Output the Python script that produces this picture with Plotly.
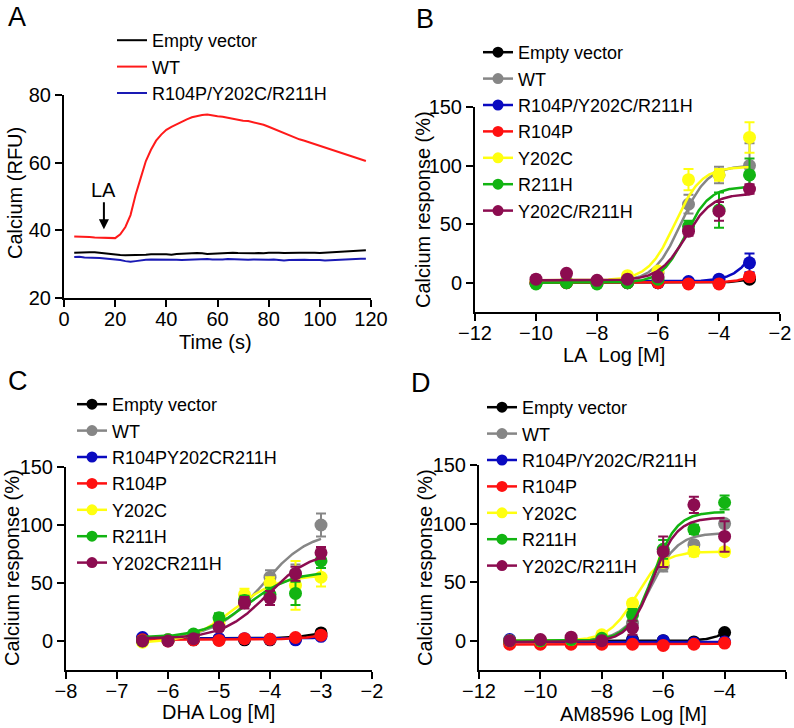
import numpy as np
import plotly.graph_objects as go

W, H = 794, 728
FONT = "Liberation Sans, Arial, Helvetica, sans-serif"

# ---------------- Panel A data (time course) ----------------
A_time = list(range(4, 119, 2))
A_names = ["Empty vector", "WT", "R104P/Y202C/R211H"]
A_colors = ["#000000", "#ff1a1a", "#1a1ab4"]
A_empty = [33.4, 33.5, 33.6, 33.5, 33.5, 33.3, 33.1, 33.0, 32.8, 32.7,
           32.6, 32.6, 32.7, 32.6, 32.8, 32.9, 32.8, 32.9, 32.9, 32.8,
           33.0, 33.1, 33.2, 33.1, 33.3, 33.2, 33.0, 33.1, 33.2, 33.3,
           33.3, 33.4, 33.3, 33.2, 33.3, 33.2, 33.3, 33.2, 33.4, 33.5,
           33.4, 33.3, 33.4, 33.5, 33.4, 33.4, 33.5, 33.4, 33.3, 33.4,
           33.5, 33.6, 33.6, 33.8, 33.9, 34.0, 34.1, 34.1]
A_wt = [38.2, 38.2, 38.1, 38.0, 37.9, 37.8, 37.8, 37.7, 37.7, 38.8,
        41.0, 44.5, 50.5, 55.5, 60.5, 63.8, 66.5, 68.3, 69.7, 70.6,
        71.4, 72.2, 72.8, 73.4, 73.8, 74.1, 74.2, 73.9, 73.7, 73.6,
        73.3, 73.0, 72.6, 72.4, 72.3, 72.0, 71.6, 71.2, 70.6, 70.0,
        69.4, 68.8, 68.0, 67.5, 66.9, 66.5, 66.0, 65.6, 65.2, 64.7,
        64.1, 63.5, 63.0, 62.5, 62.0, 61.5, 61.0, 60.5]
A_triple = [32.1, 32.2, 32.0, 32.0, 31.9, 31.8, 31.7, 31.6, 31.4, 31.2,
            30.9, 30.7, 30.9, 31.2, 31.3, 31.4, 31.4, 31.3, 31.4, 31.5,
            31.3, 31.2, 31.3, 31.4, 31.3, 31.4, 31.5, 31.4, 31.3, 31.4,
            31.5, 31.4, 31.5, 31.4, 31.3, 31.4, 31.3, 31.2, 31.3, 31.4,
            31.2, 31.1, 31.2, 31.3, 31.2, 31.3, 31.2, 31.3, 31.2, 31.1,
            31.2, 31.3, 31.3, 31.4, 31.4, 31.5, 31.6, 31.6]

# ---------------- Dose-response series ----------------
S_colors = ["#000000", "#868686", "#0a0ac0", "#ff1010", "#ffff10", "#12b412", "#8c0c50"]

B_names = ["Empty vector", "WT", "R104P/Y202C/R211H", "R104P", "Y202C", "R211H", "Y202C/R211H"]
B_x = [-10, -9, -8, -7, -6, -5, -4, -3]
B_y = [[0, 0, 0, 0, 0, 0, 0, 3],
       [1, 1, 1, 3, 8, 67, 92, 100],
       [0, 1, 1, 0, 0, 1, 3, 17],
       [0, 0, 0, 0, 0, -1, -1, 5],
       [1, 1, 1, 6, 10, 88, 92, 124],
       [-1, 0, -1, 0, 3, 48, 62, 92],
       [3, 8, 2, 3, 5, 44, 61, 80]]
B_err = [[1, 1, 1, 1, 1, 1, 1, 1],
         [1, 1, 1, 1, 2, 8, 7, 19],
         [1, 1, 1, 1, 1, 1, 1, 8],
         [1, 1, 1, 1, 1, 1, 1, 3],
         [1, 1, 1, 1, 2, 9, 5, 13],
         [1, 1, 1, 1, 2, 5, 15, 14],
         [3, 1, 1, 1, 1, 4, 8, 4]]
# fitted curve parameters: bottom, top, logEC50, hill
B_fit = [(0, 100, -1.5, 1.0), (1, 100, -5.25, 1.0), (1, 100, -2.4, 1.0), (0, 100, -1.7, 1.0),
         (2, 99, -5.45, 1.0), (0, 82, -5.1, 1.1), (2, 76, -5.1, 1.0)]

C_names = ["Empty vector", "WT", "R104PY202CR211H", "R104P", "Y202C", "R211H", "Y202CR211H"]
C_x = [-6.5, -6, -5.5, -5, -4.5, -4, -3.5, -3]
C_y = [[2, 0.5, 1, 1, 1, 1, 2, 7],
       [1, 1, 3, 12, 33, 55, 58, 100],
       [3, 1, 1.5, 2, 2, 1.5, 1, 4],
       [1, 0, 1, 0.5, 2, 1.5, 3, 5],
       [-1, 1, 3, 15, 40, 50, 48, 55],
       [0, 1, 6, 20, 35, 40, 41, 69],
       [0, 0, 2, 12, 33, 37, 58, 76]]
C_err = [[1, 1, 1, 1, 1, 1, 1, 1],
         [1, 1, 1, 2, 3, 6, 8, 10],
         [1, 1, 1, 1, 1, 1, 1, 1],
         [1, 1, 1, 1, 1, 1, 1, 1],
         [1, 1, 1, 2, 5, 5, 21, 8],
         [1, 1, 1, 4, 4, 6, 10, 6],
         [1, 1, 1, 2, 5, 6, 6, 5]]
C_fit = [(2, 100, -1.7, 1.0), (2, 95, -4.15, 0.95), (2, 100, -1.0, 1.0), (1, 100, -1.6, 1.0),
         (-2, 57, -4.7, 1.0), (3, 60, -4.45, 1.0), (2, 78, -4.05, 1.0)]

D_names = ["Empty vector", "WT", "R104P/Y202C/R211H", "R104P", "Y202C", "R211H", "Y202C/R211H"]
D_x = [-11, -10, -9, -8, -7, -6, -5, -4]
D_y = [[-1, -1, -1, -1, 1, 0, -1, 7],
       [0, 0, 1, 3, 15, 64, 82, 100],
       [1, -1, 0, -1, 0, 0, -2, -1],
       [-3, -3, -3, -3, -3, -4, -3, -2],
       [0, 0, 1, 5, 32, 67, 76, 76],
       [0, 0, 1, 2, 22, 78, 95, 118],
       [0, 1, 3, 0, 11, 76, 116, 89]]
D_err = [[1, 1, 1, 1, 1, 1, 1, 1],
         [1, 1, 1, 1, 3, 5, 3, 3],
         [1, 1, 1, 1, 1, 1, 1, 1],
         [1, 1, 1, 1, 1, 1, 1, 1],
         [1, 1, 1, 1, 3, 4, 4, 3],
         [1, 1, 1, 1, 5, 8, 4, 6],
         [1, 1, 1, 1, 6, 13, 7, 13]]
D_fit = [(-0.5, 100, -2.9, 1.0), (0, 92, -6.4, 1.0), (-1, -1, -6.0, 1.0), (-3.2, 0, -3.5, 1.0),
         (0, 76, -6.9, 1.0), (0, 110, -6.35, 1.1), (-1, 105, -6.35, 1.1)]


def logistic(x, p):
    b, t, ec, h = p
    return b + (t - b) / (1 + 10 ** ((ec - x) * h))


def px(v):
    return v / W


def py(v):
    return 1 - v / H


fig = go.Figure()

# Panel A
for name, col, ys in zip(A_names, A_colors, [A_empty, A_wt, A_triple]):
    fig.add_trace(go.Scatter(x=A_time, y=ys, mode="lines", name=name,
                             line=dict(color=col, width=2), xaxis="x", yaxis="y",
                             legend="legend"))

panels = [("x2", "y2", "legend2", B_names, B_x, B_y, B_err, B_fit),
          ("x3", "y3", "legend3", C_names, C_x, C_y, C_err, C_fit),
          ("x4", "y4", "legend4", D_names, D_x, D_y, D_err, D_fit)]
for xa, ya, lg, names, xs, yss, errs, fits in panels:
    xc = np.linspace(min(xs), max(xs), 300)
    for name, col, ys, er, fp in zip(names, S_colors, yss, errs, fits):
        fig.add_trace(go.Scatter(x=xc, y=logistic(xc, fp), mode="lines",
                                 line=dict(color=col, width=2.5), showlegend=False,
                                 xaxis=xa, yaxis=ya, hoverinfo="skip"))
        fig.add_trace(go.Scatter(x=xs, y=ys, mode="markers",
                                 marker=dict(color=col, size=13),
                                 error_y=dict(type="data", array=er, color=col,
                                              thickness=2, width=5),
                                 showlegend=False, xaxis=xa, yaxis=ya))
        fig.add_trace(go.Scatter(x=[None], y=[None], mode="lines+markers", name=name,
                                 line=dict(color=col, width=2.5),
                                 marker=dict(color=col, size=11),
                                 xaxis=xa, yaxis=ya, legend=lg))

axis_common = dict(showline=True, linecolor="black", linewidth=2, ticks="outside",
                   ticklen=7, tickwidth=2, tickcolor="black", showgrid=False,
                   zeroline=False, tickfont=dict(size=20, color="black", family=FONT),
                   fixedrange=True)
xax_extra = dict(ticklabelstandoff=-5)

fig.update_layout(
    width=W, height=H, margin=dict(l=0, r=0, t=0, b=0, autoexpand=False),
    paper_bgcolor="white", plot_bgcolor="white",
    font=dict(family=FONT, size=20, color="black"),
    xaxis=dict(domain=[px(64), px(371)], range=[0, 120], tickvals=[0, 20, 40, 60, 80, 100, 120],
               anchor="y", **axis_common, **xax_extra),
    yaxis=dict(domain=[py(298), py(95)], range=[20, 80], tickvals=[20, 40, 60, 80],
               anchor="x", **axis_common),
    xaxis2=dict(domain=[px(475), px(780)], range=[-12, -2], tickvals=[-12, -10, -8, -6, -4, -2],
                anchor="y2", **axis_common, **xax_extra),
    yaxis2=dict(domain=[py(312), py(107)], range=[-25, 150], tickvals=[0, 50, 100, 150],
                anchor="x2", **axis_common),
    xaxis3=dict(domain=[px(66), px(372)], range=[-8, -2], tickvals=[-8, -7, -6, -5, -4, -3, -2],
                anchor="y3", **axis_common, **xax_extra),
    yaxis3=dict(domain=[py(670), py(467)], range=[-25, 150], tickvals=[0, 50, 100, 150],
                anchor="x3", **axis_common),
    xaxis4=dict(domain=[px(479), px(786)], range=[-12, -2], tickvals=[-12, -10, -8, -6, -4, -2],
                anchor="y4", **axis_common, **xax_extra),
    yaxis4=dict(domain=[py(670), py(465)], range=[-25, 150], tickvals=[0, 50, 100, 150],
                anchor="x4", **axis_common),
    showlegend=True,
)

leg_common = dict(xanchor="left", yanchor="top", bgcolor="rgba(0,0,0,0)",
                  font=dict(size=18, family=FONT, color="black"), tracegroupgap=0,
                  itemwidth=30, borderwidth=0)
fig.update_layout(
    legend=dict(x=px(112), y=py(22), **leg_common),
    legend2=dict(x=px(478), y=py(34), **leg_common),
    legend3=dict(x=px(72), y=py(386), **leg_common),
    legend4=dict(x=px(482), y=py(389), **leg_common),
)

ann = []
for t, x, y in [("A", 17, 17), ("B", 425, 19), ("C", 18, 381), ("D", 421, 383)]:
    ann.append(dict(text=t, x=px(x), y=py(y), xref="paper", yref="paper",
                    showarrow=False, xanchor="center", yanchor="middle",
                    font=dict(size=27, family=FONT, color="black")))

titles = [
    ("Time (s)", 215, 342, 0),
    ("Calcium (RFU)", 15, 193, -90),
    ("LA\u00a0 Log [M]", 614, 355, 0),
    ("Calcium response (%)", 423, 210, -90),
    ("DHA Log [M]", 219, 712, 0),
    ("Calcium response (%)", 12, 568, -90),
    ("AM8596 Log [M]", 633, 714, 0),
    ("Calcium response (%)", 425, 568, -90),
]
for t, x, y, rot in titles:
    ann.append(dict(text=t, x=px(x), y=py(y), xref="paper", yref="paper", showarrow=False,
                    xanchor="center", yanchor="middle", textangle=rot,
                    font=dict(size=20, family=FONT, color="black")))

# LA arrow in panel A
ann.append(dict(text="LA", x=15.6, y=40.3, xref="x", yref="y", ax=15.6, ay=52,
                axref="x", ayref="y", showarrow=True, arrowhead=2, arrowsize=1,
                arrowwidth=2, arrowcolor="black",
                font=dict(size=20, family=FONT, color="black")))
fig.update_layout(annotations=ann)

fig.write_html("out.html", config={"displayModeBar": False},
               post_script="document.body.style.margin='0px';"
                           "document.body.style.overflow='hidden';")
